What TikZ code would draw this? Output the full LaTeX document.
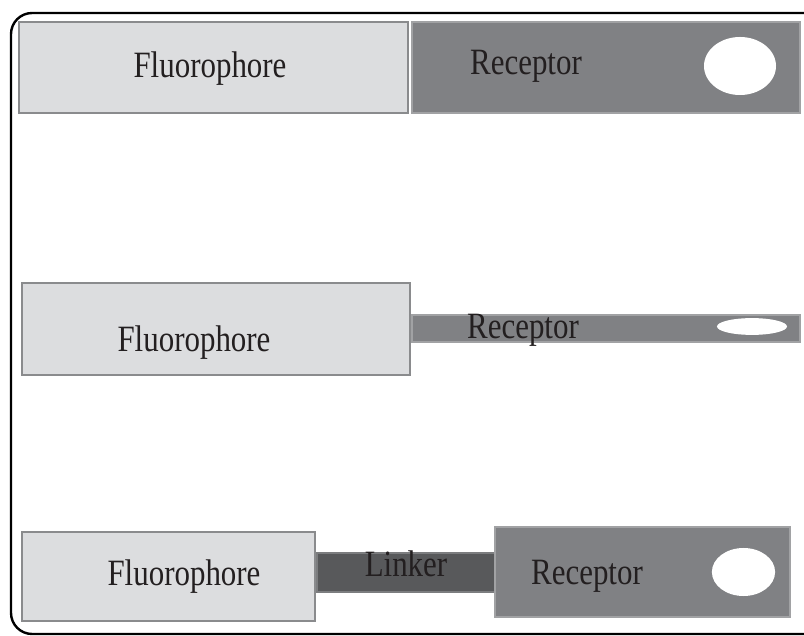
\documentclass[tikz,border=0pt]{standalone}
\usepackage{fontspec}
\setmainfont{Liberation Serif}
\usepackage{graphicx}
\usepackage{xcolor}
\usepackage{tikz}
\usetikzlibrary{positioning,fit,shapes.geometric}
\definecolor{fluorfill}{HTML}{DCDDDF}
\definecolor{recfill}{HTML}{808184}
\definecolor{linkfill}{HTML}{58595B}
\definecolor{edgegray}{HTML}{8A8B8D}
\definecolor{ink}{HTML}{231F20}
\newcommand{\tall}[1]{\scalebox{1}[1.2]{#1}}
\tikzset{
  fluor/.style={inner sep=0pt,fill=fluorfill,draw=edgegray,line width=1pt},
  recep/.style={inner sep=0pt,fill=recfill,draw=edgegray!80,line width=1pt},
  linker/.style={inner sep=0pt,fill=linkfill,draw=edgegray!90!black,line width=0.8pt},
  pocket/.style={ellipse,fill=white,inner sep=0pt},
  lbl/.style={anchor=base,text=ink,inner sep=0pt,font=\fontsize{22}{26}\selectfont},
}

\begin{document}
\begin{tikzpicture}[x=0.025cm,y=-0.025cm]
  \useasboundingbox (0,0) rectangle (804,636);
  \clip (0,0) rectangle (804,636);
  % outer frame, right side runs off the page
  \draw[line width=1.7pt,rounded corners=15pt] (11,13) rectangle (830,634);

  % free probe: fluorophore next to an open receptor
  \node[fluor,fit={(19,22) (408,113)}] (f1) {};
  \node[recep,fit={(412,22) (800,113)}] (r1) {};
  \node[pocket,minimum width=1.8cm,minimum height=1.45cm] (p1) at (740,66) {};
  \node[lbl] (tf1) at (210,78) {\tall{Fluorophore}};
  \node[lbl] (tr1) at (526,75) {\tall{Receptor}};

  % squeezed receptor with a flattened pocket
  \node[fluor,fit={(22,283) (410,375)}] (f2) {};
  \node[recep,fit={(412,315) (800,342)}] (r2) {};
  \node[pocket,minimum width=1.75cm,minimum height=0.42cm] (p2) at (752,326.5) {};
  \node[lbl] (tf2) at (194,352) {\tall{Fluorophore}};
  \node[lbl] (tr2) at (523,339) {\tall{Receptor}};

  % fluorophore and receptor joined through a linker
  \node[fluor,fit={(22,532) (315,621)}] (f3) {};
  \node[linker,fit={(317,553) (495,592)}] (l3) {};
  \node[recep,fit={(495,527) (790,617)}] (r3) {};
  \node[pocket,minimum width=1.58cm,minimum height=1.2cm] (p3) at (743.5,572) {};
  \node[lbl] (tf3) at (184,585) {\tall{Fluorophore}};
  \node[lbl] (tl3) at (406,576) {\tall{Linker}};
  \node[lbl] (tr3) at (587,584) {\tall{Receptor}};
\end{tikzpicture}
\end{document}
